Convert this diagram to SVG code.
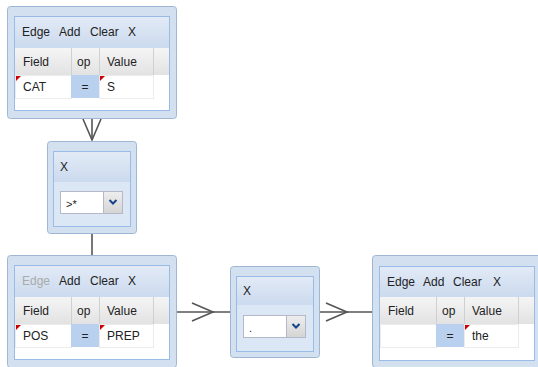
<svg xmlns="http://www.w3.org/2000/svg" width="538" height="367" viewBox="0 0 538 367">
<style>
text{font-family:"Liberation Sans",Arial,sans-serif;font-size:12px;fill:#222}
.outer{fill:#d3e0f0;stroke:#9fb6d4;stroke-width:1}
.inner{fill:#fff;stroke:#99bbe8;stroke-width:1}
.hdr{fill:url(#hdrg)}
.th{fill:url(#thg)}
.sep{stroke:#d0d0d0;stroke-width:1}
.op{fill:#b9d0ef}
.cell{fill:#fff;stroke:#ececec}
.tri{fill:#c00}
.dis{fill:#aaa}
.con{fill:none;stroke:#555;stroke-width:1.6}
.combo{fill:#fff;stroke:#b5b8c8}
.btn{fill:url(#btng);stroke:#b5b8c8}
.chev{fill:none;stroke:#15428b;stroke-width:2}
</style>
<defs>
<linearGradient id="hdrg" x1="0" y1="0" x2="0" y2="1"><stop offset="0" stop-color="#e2eaf6"/><stop offset="1" stop-color="#cbdaee"/></linearGradient>
<linearGradient id="thg" x1="0" y1="0" x2="0" y2="1"><stop offset="0" stop-color="#f5f5f5"/><stop offset="1" stop-color="#e2e2e2"/></linearGradient>
<linearGradient id="btng" x1="0" y1="0" x2="0" y2="1"><stop offset="0" stop-color="#eeeeee"/><stop offset="1" stop-color="#d4d4d4"/></linearGradient>
<marker id="arr" markerUnits="userSpaceOnUse" markerWidth="30" markerHeight="24" refX="22" refY="10" orient="auto" viewBox="0 0 30 24">
<path d="M1,1 L22,10 L1,19" fill="none" stroke="#555" stroke-width="1.6"/>
</marker>
</defs>

<g id="connectors">
<path class="con" d="M92,118 L92,140" marker-end="url(#arr)"/>
<path class="con" d="M92,234 L92,255"/>
<path class="con" d="M177,312 L213,312 L230,312" marker-mid="url(#arr)"/>
<path class="con" d="M320,312 L347,312 L372,312" marker-mid="url(#arr)"/>
</g>

<g id="node-cat" transform="translate(7,6)">
<rect class="outer" x="0.5" y="0.5" width="169" height="112" rx="3"/>
<rect class="inner" x="7.5" y="10.5" width="155" height="94"/>
<rect class="hdr" x="8" y="11" width="154" height="31"/>
<text x="15" y="30">Edge</text><text x="52" y="30">Add</text><text x="83" y="30">Clear</text><text x="121" y="30">X</text>
<rect class="th" x="8" y="42" width="154" height="27"/>
<line class="sep" x1="64.5" y1="42" x2="64.5" y2="69"/><line class="sep" x1="92.5" y1="42" x2="92.5" y2="69"/><line class="sep" x1="146.5" y1="42" x2="146.5" y2="69"/>
<text x="16" y="60">Field</text><text x="70" y="60">op</text><text x="100" y="60">Value</text>
<rect class="cell" x="8.5" y="69.5" width="56" height="23"/>
<rect class="op" x="64" y="69" width="28" height="23"/>
<rect class="cell" x="92.5" y="69.5" width="54" height="23"/>
<path class="tri" d="M9,70 L14,70 L9,75Z"/><path class="tri" d="M93,70 L98,70 L93,75Z"/>
<text x="16" y="85">CAT</text><text x="78" y="85" text-anchor="middle">=</text><text x="100" y="85">S</text>
</g>

<g id="node-x1" transform="translate(47,141)">
<rect class="outer" x="0.5" y="0.5" width="89" height="92" rx="3"/>
<rect class="inner" x="6.5" y="10.5" width="77" height="75" fill="#dce7f5" style="fill:#dce7f5"/>
<rect class="hdr" x="7" y="11" width="76" height="30"/>
<text x="13" y="30">X</text>
<rect class="combo" x="13.5" y="50.5" width="62" height="22"/>
<rect class="btn" x="56.5" y="50.5" width="19" height="22"/>
<path class="chev" d="M62.5,59 L66,62.5 L69.5,59"/>
<text x="19" y="67" style="font-size:11px">&gt;*</text>
</g>

<g id="node-pos" transform="translate(7,255)">
<rect class="outer" x="0.5" y="0.5" width="169" height="112" rx="3"/>
<rect class="inner" x="7.5" y="10.5" width="155" height="94"/>
<rect class="hdr" x="8" y="11" width="154" height="31"/>
<text x="15" y="30" class="dis">Edge</text><text x="52" y="30">Add</text><text x="83" y="30">Clear</text><text x="121" y="30">X</text>
<rect class="th" x="8" y="42" width="154" height="27"/>
<line class="sep" x1="64.5" y1="42" x2="64.5" y2="69"/><line class="sep" x1="92.5" y1="42" x2="92.5" y2="69"/><line class="sep" x1="146.5" y1="42" x2="146.5" y2="69"/>
<text x="16" y="60">Field</text><text x="70" y="60">op</text><text x="100" y="60">Value</text>
<rect class="cell" x="8.5" y="69.5" width="56" height="23"/>
<rect class="op" x="64" y="69" width="28" height="23"/>
<rect class="cell" x="92.5" y="69.5" width="54" height="23"/>
<path class="tri" d="M9,70 L14,70 L9,75Z"/><path class="tri" d="M93,70 L98,70 L93,75Z"/>
<text x="16" y="85">POS</text><text x="78" y="85" text-anchor="middle">=</text><text x="100" y="85">PREP</text>
</g>

<g id="node-x2" transform="translate(230,266)">
<rect class="outer" x="0.5" y="0.5" width="89" height="91" rx="3"/>
<rect class="inner" x="6.5" y="10.5" width="77" height="75" style="fill:#dce7f5"/>
<rect class="hdr" x="7" y="11" width="76" height="28"/>
<text x="13" y="29">X</text>
<rect class="combo" x="13.5" y="49.5" width="62" height="22"/>
<rect class="btn" x="56.5" y="49.5" width="19" height="22"/>
<path class="chev" d="M62.5,58 L66,61.5 L69.5,58"/>
<text x="19" y="66" style="font-size:11px">.</text>
</g>

<g id="node-the" transform="translate(372,255)">
<rect class="outer" x="0.5" y="0.5" width="169" height="112" rx="3"/>
<rect class="inner" x="7.5" y="11.5" width="155" height="94"/>
<rect class="hdr" x="8" y="12" width="154" height="30"/>
<text x="15" y="31">Edge</text><text x="51" y="31">Add</text><text x="81" y="31">Clear</text><text x="121" y="31">X</text>
<rect class="th" x="8" y="42" width="154" height="27"/>
<line class="sep" x1="64.5" y1="42" x2="64.5" y2="69"/><line class="sep" x1="92.5" y1="42" x2="92.5" y2="69"/><line class="sep" x1="146.5" y1="42" x2="146.5" y2="69"/>
<text x="16" y="60">Field</text><text x="70" y="60">op</text><text x="100" y="60">Value</text>
<rect class="cell" x="8.5" y="69.5" width="56" height="23"/>
<rect class="op" x="64" y="69" width="28" height="23"/>
<rect class="cell" x="92.5" y="69.5" width="54" height="23"/>
<path class="tri" d="M93,70 L98,70 L93,75Z"/>
<text x="78" y="85" text-anchor="middle">=</text><text x="100" y="85">the</text>
</g>
</svg>
